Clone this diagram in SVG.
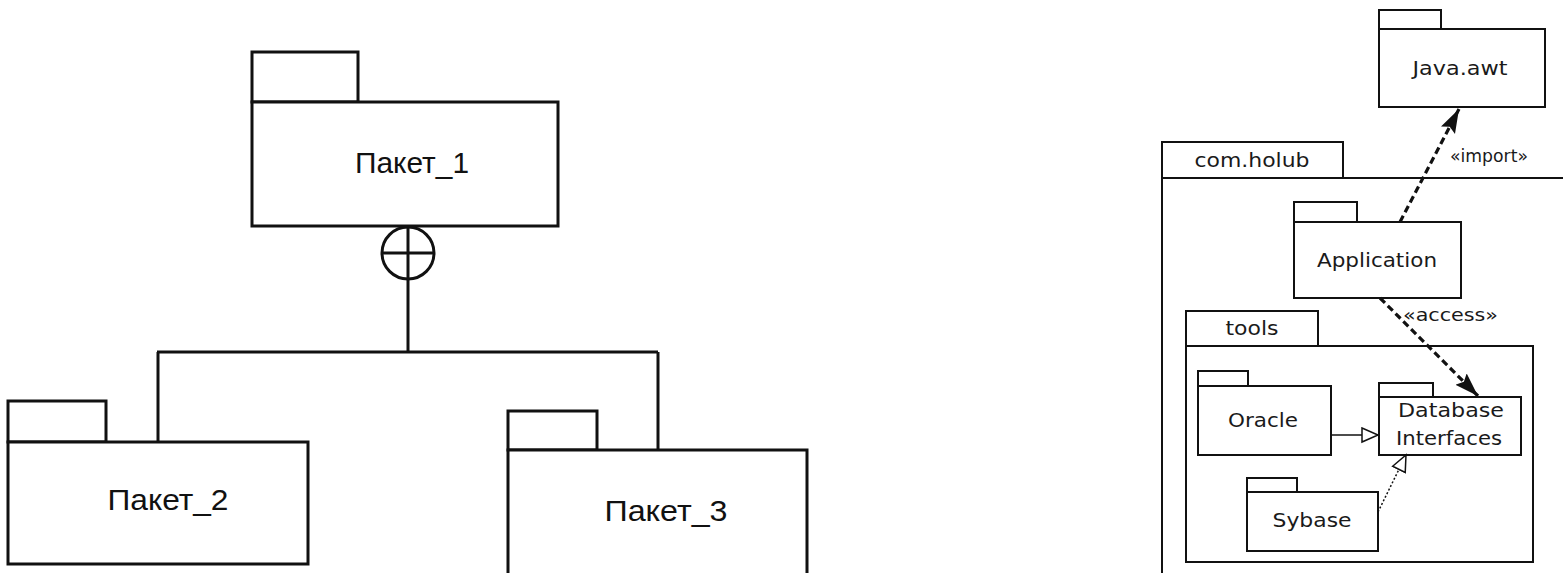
<svg xmlns="http://www.w3.org/2000/svg" width="1563" height="573" viewBox="0 0 1563 573">
  <style>
    .pkg-l { fill: #ffffff; stroke: #111111; stroke-width: 3; }
    .pkg-r { fill: #ffffff; stroke: #111111; stroke-width: 2; }
    .lbl-l { font-family: "Liberation Sans", Arial, sans-serif; font-size: 30px; fill: #111111; text-anchor: middle; }
    .lbl-r { font-family: "DejaVu Sans", sans-serif; font-size: 20px; fill: #1a1a1a; text-anchor: middle; }
    .stereo { font-family: "DejaVu Sans", sans-serif; font-size: 17px; fill: #1a1a1a; }
    .nest { fill: none; stroke: #111111; stroke-width: 3; }
    .dep { fill: none; stroke: #111111; stroke-width: 3.2; stroke-dasharray: 7 4; }
    .gen { fill: none; stroke: #111111; stroke-width: 1.5; }
  </style>
  <defs>
    <marker id="arrow-filled" markerUnits="userSpaceOnUse" markerWidth="26" markerHeight="18" refX="24" refY="8" orient="auto">
      <path d="M0,0 L24,8 L0,16 L4,8 z" fill="#111111"/>
    </marker>
    <marker id="arrow-hollow" markerUnits="userSpaceOnUse" markerWidth="20" markerHeight="18" refX="17" refY="8" orient="auto">
      <path d="M1,1 L17,8 L1,15 z" fill="#ffffff" stroke="#111111" stroke-width="1.5"/>
    </marker>
  </defs>
  <rect x="0" y="0" width="1563" height="573" fill="#ffffff"/>

  <!-- Containment tree -->
  <g id="connectors-left">
    <circle cx="408" cy="253" r="26" class="nest"/>
    <line x1="382" y1="253" x2="434" y2="253" class="nest"/>
    <line x1="408" y1="227" x2="408" y2="352" class="nest"/>
    <line x1="157" y1="352" x2="658" y2="352" class="nest"/>
    <line x1="158" y1="352" x2="158" y2="442" class="nest"/>
    <line x1="658" y1="352" x2="658" y2="450" class="nest"/>
  </g>

  <g id="paket-1">
    <rect x="252" y="52" width="106" height="50" class="pkg-l"/>
    <rect x="252" y="102" width="306" height="124" class="pkg-l"/>
    <text x="412" y="173" class="lbl-l" textLength="114" lengthAdjust="spacingAndGlyphs">Пакет_1</text>
  </g>

  <g id="paket-2">
    <rect x="8" y="401" width="98" height="41" class="pkg-l"/>
    <rect x="8" y="442" width="300" height="122" class="pkg-l"/>
    <text x="168" y="510" class="lbl-l" textLength="121" lengthAdjust="spacingAndGlyphs">Пакет_2</text>
  </g>

  <g id="paket-3">
    <rect x="508" y="411" width="89" height="39" class="pkg-l"/>
    <path d="M508,580 L508,450 L807,450 L807,580" class="pkg-l"/>
    <text x="666" y="521" class="lbl-l" textLength="123" lengthAdjust="spacingAndGlyphs">Пакет_3</text>
  </g>

  <!-- Package structure with dependencies -->
  <g id="java-awt">
    <rect x="1379" y="10" width="62" height="19" class="pkg-r"/>
    <rect x="1379" y="29" width="166" height="78" class="pkg-r"/>
    <text x="1460" y="75" class="lbl-r" textLength="95" lengthAdjust="spacingAndGlyphs">Java.awt</text>
  </g>

  <g id="com-holub">
    <rect x="1162" y="142" width="181" height="36" class="pkg-r"/>
    <path d="M1162,580 L1162,178 L1570,178" class="pkg-r" fill="none"/>
    <text x="1252" y="167" class="lbl-r" textLength="115" lengthAdjust="spacingAndGlyphs">com.holub</text>
  </g>

  <g id="application">
    <rect x="1294" y="202" width="63" height="20" class="pkg-r"/>
    <rect x="1294" y="222" width="167" height="76" class="pkg-r"/>
    <text x="1377" y="267" class="lbl-r" textLength="120" lengthAdjust="spacingAndGlyphs">Application</text>
  </g>

  <g id="tools">
    <rect x="1186" y="311" width="132" height="35" class="pkg-r"/>
    <rect x="1186" y="346" width="347" height="216" class="pkg-r"/>
    <text x="1252" y="335" class="lbl-r" textLength="53" lengthAdjust="spacingAndGlyphs">tools</text>
  </g>

  <g id="oracle">
    <rect x="1198" y="371" width="50" height="15" class="pkg-r"/>
    <rect x="1198" y="386" width="133" height="69" class="pkg-r"/>
    <text x="1263" y="427" class="lbl-r" textLength="70" lengthAdjust="spacingAndGlyphs">Oracle</text>
  </g>

  <g id="database-interfaces">
    <rect x="1379" y="383" width="54" height="14" class="pkg-r"/>
    <rect x="1379" y="397" width="142" height="58" class="pkg-r"/>
    <text x="1451" y="417" class="lbl-r" textLength="106" lengthAdjust="spacingAndGlyphs">Database</text>
    <text x="1449" y="445" class="lbl-r" textLength="106" lengthAdjust="spacingAndGlyphs">Interfaces</text>
  </g>

  <g id="sybase">
    <rect x="1247" y="478" width="50" height="14" class="pkg-r"/>
    <rect x="1247" y="492" width="131" height="59" class="pkg-r"/>
    <text x="1312" y="527" class="lbl-r" textLength="79" lengthAdjust="spacingAndGlyphs">Sybase</text>
  </g>

  <g id="connectors-right">
    <line x1="1400" y1="222" x2="1459" y2="109" class="dep" marker-end="url(#arrow-filled)"/>
    <text x="1450" y="162" class="stereo" textLength="78" lengthAdjust="spacingAndGlyphs">«import»</text>
    <line x1="1380" y1="298" x2="1478" y2="396" class="dep" marker-end="url(#arrow-filled)"/>
    <text x="1403" y="321" class="stereo" textLength="95" lengthAdjust="spacingAndGlyphs">«access»</text>
    <line x1="1331" y1="435" x2="1378" y2="435" class="gen" marker-end="url(#arrow-hollow)"/>
    <line x1="1378" y1="512" x2="1406" y2="455" class="gen" stroke-dasharray="2 2" marker-end="url(#arrow-hollow)"/>
  </g>
</svg>
